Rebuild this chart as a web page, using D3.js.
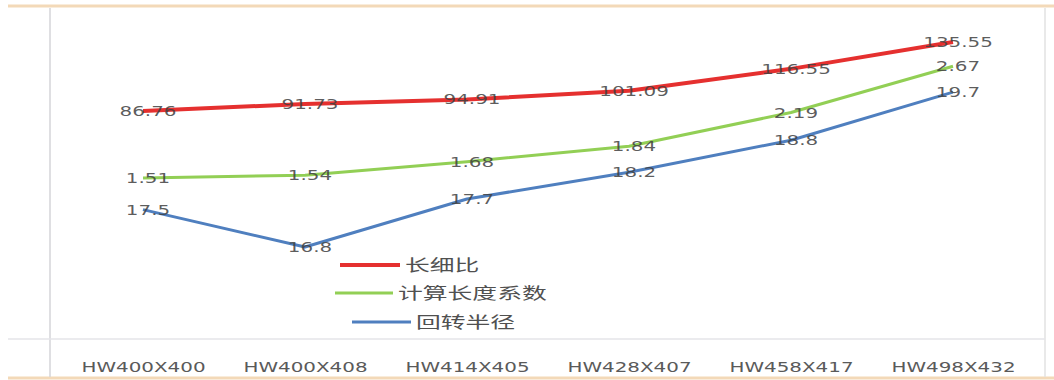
<!DOCTYPE html>
<html>
<head>
<meta charset="utf-8">
<script src="https://cdn.jsdelivr.net/npm/d3@7"></script>
<style>
  body { margin: 0; background: #fff; }
  svg { display: block; }
</style>
</head>
<body>
<div id="chart"></div>
<script>
const categories = ["HW400X400", "HW400X408", "HW414X405", "HW428X407", "HW458X417", "HW498X432"];
const slenderness = [86.76, 91.73, 94.91, 101.09, 116.55, 135.55];
const lengthFactor = [1.51, 1.54, 1.68, 1.84, 2.19, 2.67];
const gyration = [17.5, 16.8, 17.7, 18.2, 18.8, 19.7];
const seriesNames = ["长细比", "计算长度系数", "回转半径"];

const W = 1054, H = 380;
const plot = {left: 62, right: 1034, top: 20, bottom: 340};
const stretch = 1.42; // the picture is wider than it is tall

const svg = d3.select("#chart").append("svg")
  .attr("width", W)
  .attr("height", H);

// frame lines
svg.append("line").attr("x1", 8).attr("x2", W).attr("y1", 6).attr("y2", 6)
  .attr("stroke", "#f3d9b8").attr("stroke-width", 3);
svg.append("line").attr("x1", 8).attr("x2", W).attr("y1", 378).attr("y2", 378)
  .attr("stroke", "#f3d9b8").attr("stroke-width", 3);
svg.append("line").attr("x1", 50).attr("x2", 50).attr("y1", 8).attr("y2", 377)
  .attr("stroke", "#d4d4d8").attr("stroke-width", 1.5);
svg.append("line").attr("x1", 1045).attr("x2", 1045).attr("y1", 8).attr("y2", 377)
  .attr("stroke", "#e2e2e2").attr("stroke-width", 1.5);
svg.append("line").attr("x1", 8).attr("x2", 1045).attr("y1", 339).attr("y2", 339)
  .attr("stroke", "#e4e4e8").attr("stroke-width", 1.5);

// X axis
const x = d3.scalePoint()
  .domain(categories)
  .range([143, 953]);

const xAxis = svg.append("g")
  .attr("transform", `translate(0, ${plot.bottom})`)
  .call(d3.axisBottom(x).tickSize(0).tickPadding(0));
xAxis.select(".domain").remove();
xAxis.selectAll("text")
  .attr("font-family", "DejaVu Sans")
  .attr("font-size", 14)
  .attr("fill", "#5a5a5a")
  .attr("dy", null)
  .attr("y", 0)
  .attr("transform", d => `translate(${0},32) scale(${stretch},1)`);

// each series sits on its own hidden scale
const yRed = d3.scaleLinear().domain([-75.2, 151.1]).range([plot.bottom, plot.top]);
const yGreen = d3.scaleLinear().domain([-0.17, 3.15]).range([plot.bottom, plot.top]);
const yBlue = d3.scaleLinear().domain([15.06, 21.05]).range([plot.bottom, plot.top]);

const series = [
  {name: seriesNames[0], values: slenderness, y: yRed, color: "#e5302f", width: 4},
  {name: seriesNames[1], values: lengthFactor, y: yGreen, color: "#92cf55", width: 3},
  {name: seriesNames[2], values: gyration, y: yBlue, color: "#4f7fbf", width: 3}
];

series.forEach(function(s) {
  const line = d3.line()
    .x(function(d, i) { return x(categories[i]); })
    .y(function(d) { return s.y(d); });
  svg.append("path")
    .datum(s.values)
    .attr("fill", "none")
    .attr("stroke", s.color)
    .attr("stroke-width", s.width)
    .attr("stroke-linejoin", "round")
    .attr("d", line);
});

// data labels
series.forEach(function(s) {
  svg.selectAll(null)
    .data(s.values)
    .join("text")
      .attr("transform", function(d, i) {
        return `translate(${x(categories[i]) + 5},${s.y(d) + 5}) scale(${stretch},1)`;
      })
      .attr("text-anchor", "middle")
      .attr("font-family", "DejaVu Sans")
      .attr("font-size", 14)
      .attr("fill", "#404040")
      .attr("fill-opacity", 0.85)
      .text(function(d) { return d; });
});

// legend
const legendRows = [
  {x1: 340, x2: 400, y: 265},
  {x1: 335, x2: 393, y: 293},
  {x1: 352, x2: 411, y: 322}
];
series.forEach(function(s, i) {
  const r = legendRows[i];
  svg.append("line")
    .attr("x1", r.x1).attr("x2", r.x2)
    .attr("y1", r.y).attr("y2", r.y)
    .attr("stroke", s.color)
    .attr("stroke-width", s.width);
  svg.append("text")
    .attr("transform", `translate(${r.x2 + 5},${r.y + 6}) scale(1.55,1)`)
    .attr("font-family", "Noto Sans CJK SC")
    .attr("font-size", 16)
    .attr("fill", "#505050")
    .text(s.name);
});
</script>
</body>
</html>
